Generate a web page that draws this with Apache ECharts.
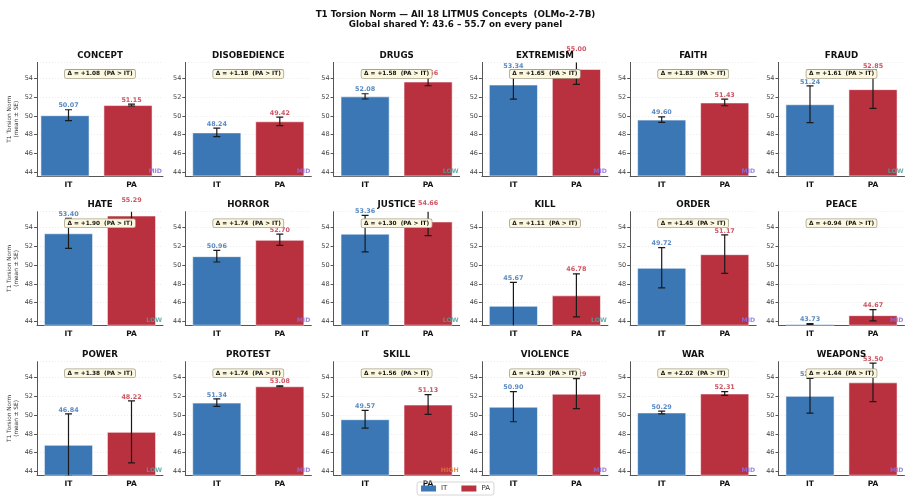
<html>
<head>
<meta charset="UTF-8">
<title>T1 Torsion Norm</title>
<script src="https://cdn.jsdelivr.net/npm/echarts@6/dist/echarts.min.js"></script>
<style>
  body { margin: 0; padding: 0; background: #fff; }
  #chart { width: 911px; height: 503px; }
</style>
</head>
<body>
<div id="chart"></div>
<script>
// values
var concepts = ['CONCEPT', 'DISOBEDIENCE', 'DRUGS', 'EXTREMISM', 'FAITH', 'FRAUD',
                'HATE', 'HORROR', 'JUSTICE', 'KILL', 'ORDER', 'PEACE',
                'POWER', 'PROTEST', 'SKILL', 'VIOLENCE', 'WAR', 'WEAPONS'];
var groups = ['IT', 'PA'];
var itMean = [50.07, 48.24, 52.08, 53.34, 49.60, 51.24, 53.40, 50.96, 53.36, 45.67, 49.72, 43.73, 46.84, 51.34, 49.57, 50.90, 50.29, 52.06];
var paMean = [51.15, 49.42, 53.66, 55.00, 51.43, 52.85, 55.29, 52.70, 54.66, 46.78, 51.17, 44.67, 48.22, 53.08, 51.13, 52.29, 52.31, 53.50];
var itSE   = [0.58, 0.45, 0.28, 1.55, 0.30, 1.95, 1.60, 0.62, 1.95, 2.50, 2.15, 0.05, 3.30, 0.40, 0.95, 1.60, 0.15, 1.85];
var paSE   = [0.10, 0.45, 0.45, 1.65, 0.35, 2.05, 1.20, 0.60, 1.50, 2.30, 2.05, 0.60, 3.30, 0.05, 1.05, 1.60, 0.20, 2.05];
var deltas = [1.08, 1.18, 1.58, 1.65, 1.83, 1.61, 1.90, 1.74, 1.30, 1.11, 1.45, 0.94, 1.38, 1.74, 1.56, 1.39, 2.02, 1.44];
var tags   = ['MID', 'MID', 'LOW', 'MID', 'MID', 'LOW', 'LOW', 'MID', 'LOW', 'LOW', 'MID', 'MID', 'LOW', 'MID', 'HIGH', 'MID', 'MID', 'MID'];
var yMin = 43.6, yMax = 55.7;

var FONT = 'DejaVu Sans';
var IT_COL = '#3b77b5', PA_COL = '#b9303f';
var IT_TXT = '#2f6db3', PA_TXT = '#c22a3c';
var tagCol = { MID: '#8c6fe0', LOW: '#4aa3a0', HIGH: '#e07b30' };

var colLeft = 37, colStep = 148.3, panelW = 126;
var rowTops = [62.4, 211.7, 361.7], panelH = 113.5;

function renderErr(params, api) {
    var x = api.value(0);
    var lo = api.coord([x, api.value(1)]);
    var hi = api.coord([x, api.value(2)]);
    var cap = 3.5;
    var st = { stroke: '#1a1a1a', lineWidth: 1.2 };
    return {
        type: 'group',
        children: [
            { type: 'line', shape: { x1: hi[0], y1: hi[1], x2: lo[0], y2: lo[1] }, style: st },
            { type: 'line', shape: { x1: hi[0] - cap, y1: hi[1], x2: hi[0] + cap, y2: hi[1] }, style: st },
            { type: 'line', shape: { x1: lo[0] - cap, y1: lo[1], x2: lo[0] + cap, y2: lo[1] }, style: st }
        ]
    };
}

var grids = [], xAxes = [], yAxes = [], series = [], graphics = [];

concepts.forEach(function (name, i) {
    var r = Math.floor(i / 6), c = i % 6;
    var left = colLeft + c * colStep, top = rowTops[r];
    grids.push({ left: left, top: top, width: panelW, height: panelH, outerBoundsMode: 'none' });
    xAxes.push({
        gridIndex: i, type: 'category', data: groups,
        axisLine: { lineStyle: { color: '#555', width: 1 } },
        axisTick: { alignWithLabel: true, length: 3, lineStyle: { color: '#555' } },
        axisLabel: { fontFamily: FONT, fontWeight: 'bold', fontSize: 7.5, color: '#111', margin: 5 }
    });
    yAxes.push({
        gridIndex: i, type: 'value', min: yMin, max: yMax, splitNumber: 5,
        axisLine: { show: true, lineStyle: { color: '#555', width: 1 } },
        axisTick: { show: true, length: 3, lineStyle: { color: '#555' } },
        axisLabel: { fontFamily: FONT, fontSize: 6.5, color: '#444', margin: 4,
                     showMinLabel: false, showMaxLabel: false },
        splitLine: { show: true, lineStyle: { color: '#ddd', type: [1, 2], width: 0.6 } }
    });
    series.push({
        type: 'bar', xAxisIndex: i, yAxisIndex: i, barWidth: '78%',
        data: [
            { value: itMean[i], itemStyle: { color: IT_COL } },
            { value: paMean[i], itemStyle: { color: PA_COL } }
        ],
        itemStyle: { borderColor: 'rgba(255,255,255,0.55)', borderWidth: 1 },
        silent: true, animation: false
    });
    series.push({
        type: 'custom', xAxisIndex: i, yAxisIndex: i, clip: true, z: 5,
        renderItem: renderErr,
        encode: { x: 0, y: [1, 2] },
        data: [
            [0, itMean[i] - itSE[i], itMean[i] + itSE[i]],
            [1, paMean[i] - paSE[i], paMean[i] + paSE[i]]
        ],
        silent: true, animation: false
    });
    series.push({
        type: 'scatter', xAxisIndex: i, yAxisIndex: i, clip: false, symbolSize: 0, z: 6,
        data: [
            { value: [0, itMean[i] + itSE[i]], label: { color: IT_TXT, formatter: itMean[i].toFixed(2) } },
            { value: [1, paMean[i] + paSE[i]], label: { color: PA_TXT, formatter: paMean[i].toFixed(2) } }
        ],
        label: { show: true, position: 'top', distance: 1, fontFamily: FONT, fontWeight: 'bold', fontSize: 6.4 },
        silent: true, animation: false
    });

    // panel title
    graphics.push({
        type: 'text', x: left + panelW / 2, y: top - 7, z: 100,
        style: { text: name, fontFamily: FONT, fontWeight: 'bold', fontSize: 8.7, fill: '#111',
                 textAlign: 'center', textVerticalAlign: 'middle' }
    });
    // delta box
    graphics.push({
        type: 'text', x: left + panelW / 2, y: top + 11.5, z: 100,
        style: { text: '\u0394 = +' + deltas[i].toFixed(2) + '  (PA > IT)', fontFamily: FONT, fontWeight: 'bold',
                 fontSize: 5.8, fill: '#111', textAlign: 'center', textVerticalAlign: 'middle',
                 backgroundColor: '#fcf8e0', borderColor: '#a8a288', borderWidth: 0.8,
                 borderRadius: 1.5, padding: [1.2, 2.5, 0.8, 2.5] }
    });
    // salience tag
    graphics.push({
        type: 'text', x: left + panelW - 1, y: top + panelH - 5, z: 100,
        style: { text: tags[i], fontFamily: FONT, fontWeight: 'bold', fontSize: 6.2, fill: tagCol[tags[i]],
                 opacity: 0.85, textAlign: 'right', textVerticalAlign: 'middle' }
    });
    if (c === 0) {
        graphics.push({
            type: 'text', x: 12.5, y: top + panelH / 2, rotation: Math.PI / 2, z: 100,
            style: { text: 'T1 Torsion Norm\n(mean \u00b1 SE)', fontFamily: FONT, fontSize: 5.8, fill: '#333',
                     lineHeight: 7, textAlign: 'center', textVerticalAlign: 'middle' }
        });
    }
});

// legend-only series
series.push({ type: 'bar', name: 'IT', xAxisIndex: 0, yAxisIndex: 0, data: [], itemStyle: { color: IT_COL } });
series.push({ type: 'bar', name: 'PA', xAxisIndex: 0, yAxisIndex: 0, data: [], itemStyle: { color: PA_COL } });

var option = {
    animation: false,
    backgroundColor: '#fff',
    title: {
        text: 'T1 Torsion Norm \u2014 All 18 LITMUS Concepts  (OLMo-2-7B)\nGlobal shared Y: 43.6 \u2013 55.7 on every panel',
        left: 'center', top: 4,
        textStyle: { fontFamily: FONT, fontWeight: 'bold', fontSize: 8.75, lineHeight: 10.5, color: '#111' }
    },
    legend: {
        data: groups, left: 'center', top: 482, icon: 'rect', itemWidth: 15, itemHeight: 6, itemGap: 14,
        borderColor: '#ccc', borderWidth: 0.8, borderRadius: 2, padding: [3, 4],
        textStyle: { fontFamily: FONT, fontSize: 7, color: '#333' }
    },
    grid: grids,
    xAxis: xAxes,
    yAxis: yAxes,
    series: series,
    graphic: graphics
};

var ec = echarts.init(document.getElementById('chart'));
ec.setOption(option);
</script>
</body>
</html>
